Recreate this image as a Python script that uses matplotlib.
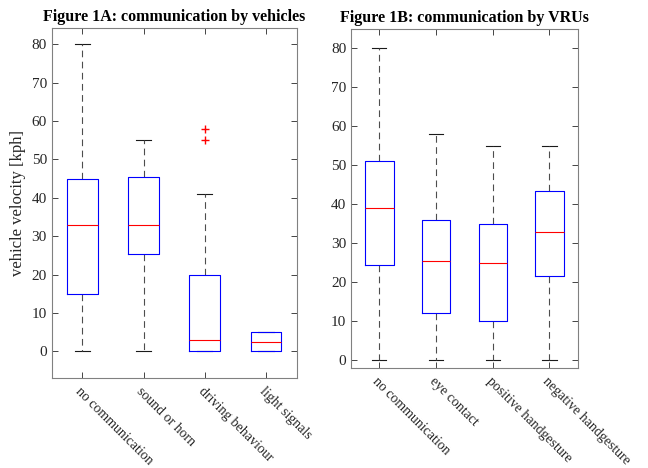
import numpy as np
import matplotlib.pyplot as plt

plt.rcParams['font.family'] = ['Liberation Serif', 'DejaVu Serif']

# figure 1A: communication by vehicles
veh_labels = ['no communication', 'sound or horn', 'driving behaviour', 'light signals']
veh_q1 = [15, 25.3, 0, 0]
veh_med = [33, 33, 3, 2.5]
veh_q3 = [45, 45.5, 20, 5]
veh_lo = [0, 0, 0, 0]
veh_hi = [80, 55, 41, 5]
veh_out = [[], [], [55, 58], []]

# figure 1B: communication by VRUs
vru_labels = ['no communication', 'eye contact', 'positive handgesture', 'negative handgesture']
vru_q1 = [24.3, 12, 10, 21.5]
vru_med = [39, 25.5, 25, 33]
vru_q3 = [51, 36, 35, 43.5]
vru_lo = [0, 0, 0, 0]
vru_hi = [80, 58, 55, 55]
vru_out = [[], [], [], []]

GRAY = (0.15, 0.15, 0.15)


def make_stats(labels, q1, med, q3, lo, hi, out):
    return [dict(label=l, q1=a, med=m, q3=b, whislo=w0, whishi=w1, fliers=f)
            for l, a, m, b, w0, w1, f in zip(labels, q1, med, q3, lo, hi, out)]


def draw(ax, stats, title, ylim):
    ax.bxp(stats, widths=0.5, capwidths=0.25, showfliers=True,
           boxprops=dict(color='blue', linewidth=0.8, zorder=3),
           medianprops=dict(color='red', linewidth=0.8, zorder=4),
           whiskerprops=dict(color=(0.3, 0.3, 0.3), linestyle=(0, (6, 4)), linewidth=0.8, zorder=2),
           capprops=dict(color=(0.1, 0.1, 0.1), linewidth=0.8, zorder=1),
           flierprops=dict(marker='+', markeredgecolor='red', markersize=6, linestyle='none'))
    ax.set_xlim(0.5, len(stats) + 0.5)
    ax.set_ylim(*ylim)
    ax.set_yticks(np.arange(0, 81, 10))
    ax.set_xticks(np.arange(1, len(stats) + 1))
    ax.set_xticklabels([s['label'] for s in stats], rotation=-45, ha='left',
                       rotation_mode='anchor', fontsize=10, color=GRAY)
    ax.tick_params(direction='in', top=True, right=True, colors=GRAY, labelsize=11,
                   length=4, width=0.6)
    ax.tick_params(axis='x', labelsize=10, pad=5)
    for lab in ax.get_yticklabels():
        lab.set_color(GRAY)
    for sp in ax.spines.values():
        sp.set_color((0.5, 0.5, 0.5))
        sp.set_linewidth(0.8)
    ax.set_title(title, fontsize=11.5, fontweight='bold', pad=5)


fig = plt.figure(figsize=(6.48, 4.68), dpi=100)
ax1 = fig.add_axes([0.0798, 0.1923, 0.378, 0.747])
ax2 = fig.add_axes([0.5417, 0.2143, 0.350, 0.723])

draw(ax1, make_stats(veh_labels, veh_q1, veh_med, veh_q3, veh_lo, veh_hi, veh_out),
     'Figure 1A: communication by vehicles', (-6.95, 84.1))
draw(ax2, make_stats(vru_labels, vru_q1, vru_med, vru_q3, vru_lo, vru_hi, vru_out),
     'Figure 1B: communication by VRUs', (-1.9, 84.8))
ax1.set_ylabel('vehicle velocity [kph]', fontsize=12, color=GRAY)

fig.savefig('out.png', dpi=100)
